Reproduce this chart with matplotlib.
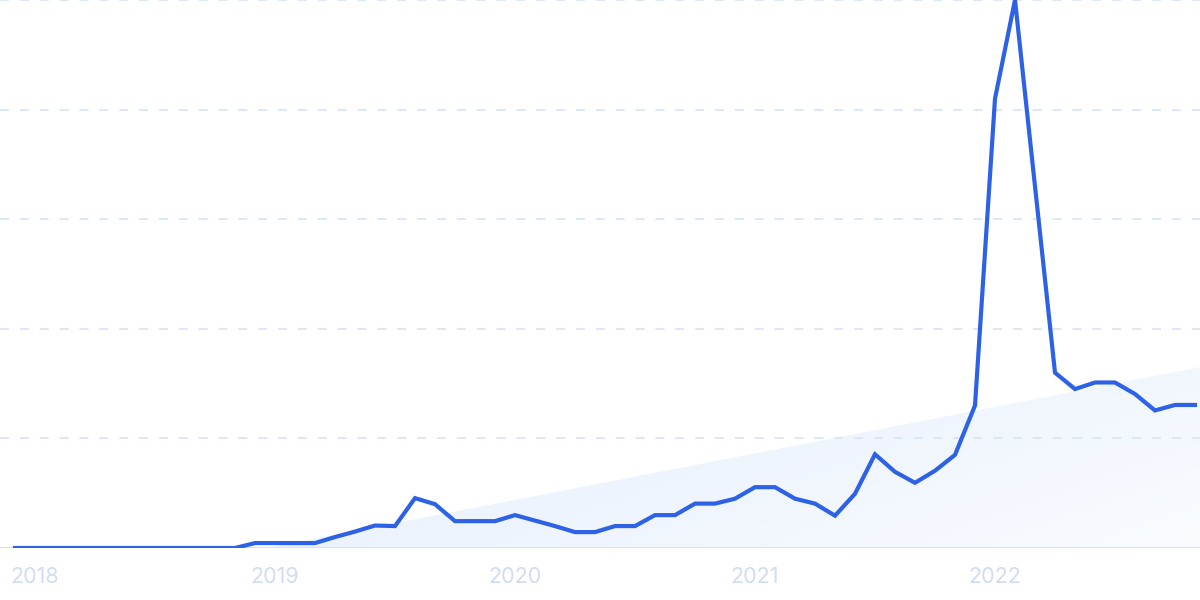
import numpy as np
import pandas as pd
import matplotlib
matplotlib.use("Agg")
import matplotlib.pyplot as plt
from matplotlib.colors import LinearSegmentedColormap
from matplotlib.patches import Polygon

plt.rcParams["font.family"] = ["Inter", "DejaVu Sans"]

# monthly interest, Dec 2017 .. Nov 2022 (0-100 scale)
months = pd.date_range("2017-12-01", "2022-11-01", freq="MS")
values = [
    0, 0, 0, 0, 0, 0, 0, 0, 0, 0, 0, 0,
    0.9, 0.9, 0.9, 0.9, 2, 3, 4.1, 4, 9.1, 8, 4.9, 4.9,
    4.9, 6, 5, 4, 2.9, 2.9, 4, 4, 6, 6, 8.1, 8.1,
    9, 11.1, 11.1, 9, 8.1, 5.9, 9.9, 17.1, 13.9, 11.9, 14.1, 17,
    26, 82, 100, 66, 32, 29, 30.2, 30.2, 28.1, 25.1, 26.1, 26.1,
]
# background trend wedge (start index, end value)
trend_x = [12.6, 59.25]
trend_y = [0, 33]

line_color = "#2d62e6"
grid_color = "#d9e6f9"
label_color = "#d0dcf5"

fig = plt.figure(figsize=(12, 6), dpi=100)
ax = fig.add_axes([0, 52 / 600, 1, 548 / 600])

x = np.arange(len(values))
ax.set_xlim(-0.75, len(values) - 0.75)
ax.set_ylim(0, 100)

# gradient wedge under the trend: bluer top-left, whiter bottom-right
cmap = LinearSegmentedColormap.from_list("wedge", ["#e5effc", "#f9fbff"])
gx, gy = np.meshgrid(np.linspace(0, 1, 200), np.linspace(0, 1, 100))
grad = 0.65 * gx + 0.35 * gy
img = ax.imshow(grad, cmap=cmap, extent=[trend_x[0], trend_x[1], 0, trend_y[1]],
                aspect="auto", origin="upper", zorder=0)
wedge = Polygon([(trend_x[0], trend_y[0]), (trend_x[1], trend_y[1]), (trend_x[1], 0)],
                closed=True, facecolor="none", edgecolor="none")
ax.add_patch(wedge)
img.set_clip_path(wedge)

for gv in [20, 40, 60, 80, 100]:
    ax.axhline(gv, color=grid_color, lw=1.3, ls=(0, (5, 6)), zorder=1)
ax.axhline(0, color="#c9e1fb", lw=1.3, zorder=1)

ax.plot(x, values, color=line_color, lw=3.0, solid_joinstyle="miter", zorder=3)

jan = [i for i, m in enumerate(months) if m.month == 1]
ax.set_xticks(jan)
ax.set_xticklabels([str(months[i].year) for i in jan])
ax.tick_params(axis="x", length=0, pad=14, labelsize=15.5, labelcolor=label_color)
ax.set_yticks([])
for s in ax.spines.values():
    s.set_visible(False)

fig.savefig("out.png", dpi=100)
